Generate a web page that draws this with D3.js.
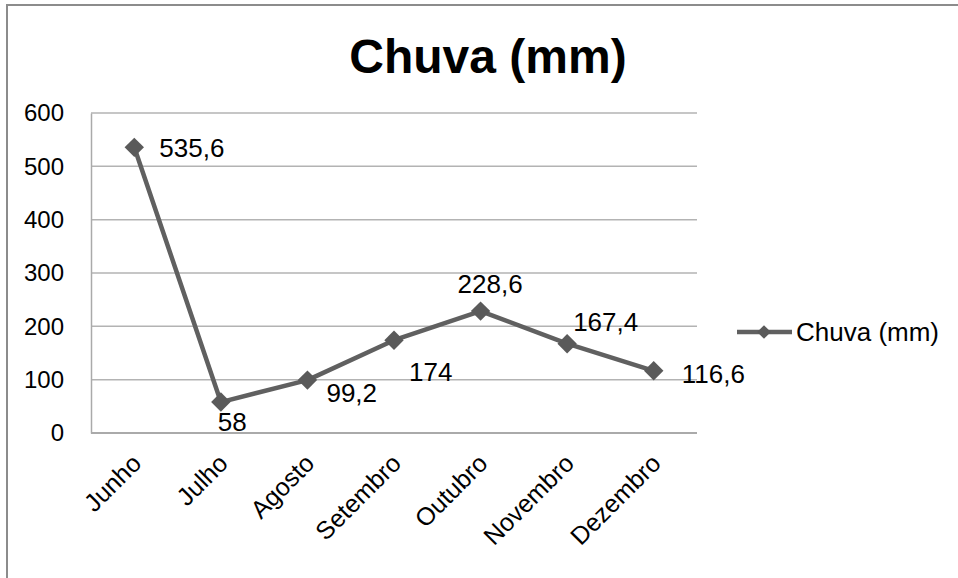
<!DOCTYPE html>
<html>
<head>
<meta charset="utf-8">
<script src="https://cdn.jsdelivr.net/npm/d3@7"></script>
<style>
  html, body { margin: 0; padding: 0; background: #fff; }
  svg { display: block; }
  text { font-family: "Liberation Sans", Arial, sans-serif; fill: #000; }
</style>
</head>
<body>
<svg id="chart" width="958" height="578"></svg>
<script>
const title = "Chuva (mm)";
const seriesName = "Chuva (mm)";
const categories = ["Junho", "Julho", "Agosto", "Setembro", "Outubro", "Novembro", "Dezembro"];
const rain = [535.6, 58, 99.2, 174, 228.6, 167.4, 116.6];
const rainLabels = ["535,6", "58", "99,2", "174", "228,6", "167,4", "116,6"];
const yTicks = [0, 100, 200, 300, 400, 500, 600];

// label placement relative to each point (drawing config)
const labelOffsets = [[25, 0], [-3, 20], [19, 13], [15, 31], [-23, -27], [6, -22], [28, 3]];

const svg = d3.select("#chart");
const W = 958, H = 578;
const plot = { left: 91, right: 697, top: 113, bottom: 433 };

svg.append("rect").attr("width", W).attr("height", H).attr("fill", "#fff");
// outer frame (clipped at right/bottom)
svg.append("rect").attr("x", 7).attr("y", 5).attr("width", W + 10).attr("height", H + 10)
  .attr("fill", "none").attr("stroke", "#8c8c8c").attr("stroke-width", 2);

const x = d3.scalePoint().domain(categories).range([plot.left, plot.right]).padding(0.5);
const y = d3.scaleLinear().domain([0, 600]).range([plot.bottom, plot.top]);

// gridlines
svg.append("g").selectAll("line").data(yTicks.filter(d => d > 0)).join("line")
  .attr("x1", plot.left).attr("x2", plot.right)
  .attr("y1", d => y(d)).attr("y2", d => y(d))
  .attr("stroke", "#b3b3b3").attr("stroke-width", 1.5);

// y axis
const yAxis = svg.append("g").attr("transform", `translate(${plot.left},0)`)
  .call(d3.axisLeft(y).tickValues(yTicks).tickSize(0).tickPadding(27).tickFormat(d3.format("d")));
yAxis.select(".domain").attr("stroke", "#aaaaaa").attr("stroke-width", 1.5);
yAxis.selectAll("text").style("font-size", "24px").attr("fill", "#000")
  .style("font-family", "'Liberation Sans', Arial, sans-serif");

// x axis
const xAxis = svg.append("g").attr("transform", `translate(0,${plot.bottom})`)
  .call(d3.axisBottom(x).tickSize(0).tickFormat(d => d));
xAxis.select(".domain").attr("d", `M${plot.left},0H${plot.right}`)
  .attr("stroke", "#aaaaaa").attr("stroke-width", 2);
xAxis.selectAll(".tick text")
  .style("font-size", "25px").attr("fill", "#000")
  .style("font-family", "'Liberation Sans', Arial, sans-serif")
  .attr("text-anchor", "end")
  .attr("y", 0).attr("dy", 0)
  .attr("transform", "translate(8,32) rotate(-45)");

// line
const line = d3.line().x((d, i) => x(categories[i])).y(d => y(d));
svg.append("path").datum(rain).attr("d", line)
  .attr("fill", "none").attr("stroke", "#606060").attr("stroke-width", 4.5)
  .attr("stroke-linejoin", "round");

// markers
const diamond = d3.symbol().type(d3.symbolDiamond2).size(240);
svg.append("g").selectAll("path").data(rain).join("path")
  .attr("d", diamond)
  .attr("transform", (d, i) => `translate(${x(categories[i])},${y(d)})`)
  .attr("fill", "#5a5a5a");

// data labels
svg.append("g").selectAll("text").data(rain).join("text")
  .attr("x", (d, i) => x(categories[i]) + labelOffsets[i][0])
  .attr("y", (d, i) => y(d) + labelOffsets[i][1])
  .attr("dy", "0.36em")
  .style("font-size", "26px")
  .text((d, i) => rainLabels[i]);

// title
svg.append("text").attr("x", 488).attr("y", 73).attr("text-anchor", "middle")
  .style("font-size", "48px").style("font-weight", "bold").text(title);

// legend
const lg = svg.append("g").attr("transform", "translate(737,332)");
lg.append("line").attr("x1", 0).attr("x2", 55).attr("y1", 0).attr("y2", 0)
  .attr("stroke", "#606060").attr("stroke-width", 4.5);
lg.append("path").attr("d", d3.symbol().type(d3.symbolDiamond2).size(120))
  .attr("transform", "translate(27,0)").attr("fill", "#5a5a5a");
lg.append("text").attr("x", 59).attr("y", 0).attr("dy", "0.36em")
  .style("font-size", "26px").text(seriesName);
</script>
</body>
</html>
